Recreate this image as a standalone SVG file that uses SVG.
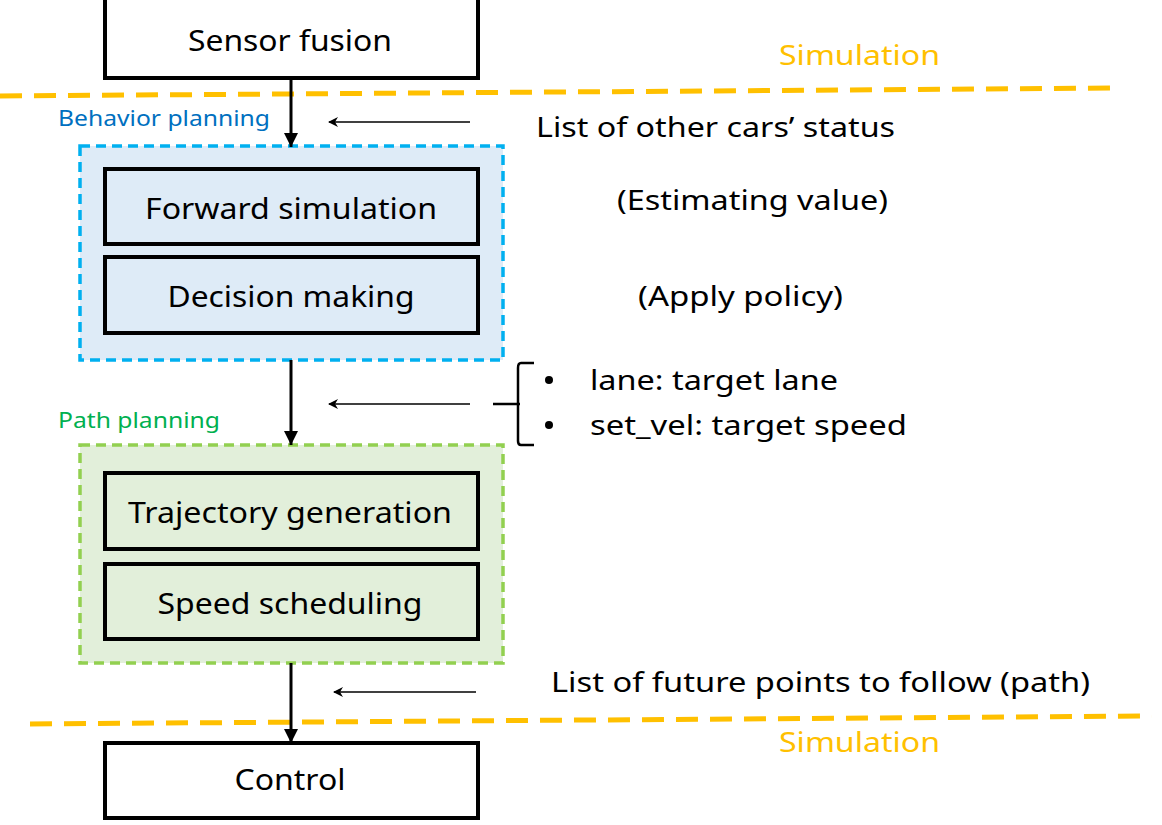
<svg xmlns="http://www.w3.org/2000/svg" width="1162" height="825" viewBox="0 0 1162 825">
<defs>
<marker id="ah" viewBox="0 0 14 14" refX="14" refY="7" markerWidth="14" markerHeight="14" orient="auto" markerUnits="userSpaceOnUse"><path d="M0,0 L14,7 L0,14 z" fill="#000"/></marker>
<marker id="ahs" viewBox="0 0 10 10" refX="9" refY="5" markerWidth="10" markerHeight="10" orient="auto" markerUnits="userSpaceOnUse"><path d="M0,0 L10,5 L0,10 L3,5 z" fill="#000"/></marker>
</defs>
<style>
text{font-family:"Noto Sans","Open Sans","Liberation Sans",sans-serif;}
.box{fill:#fff;stroke:#000;stroke-width:4;}
.inb{fill:#DEEBF7;stroke:#000;stroke-width:4;}
.ing{fill:#E2EFDA;stroke:#000;stroke-width:4;}
.lbl{font-size:29px;fill:#000;text-anchor:middle;}
.note{font-size:28px;fill:#000;}
.sim{font-size:28px;fill:#FFC000;}
.main{stroke:#000;stroke-width:3;fill:none;}
.thin{stroke:#000;stroke-width:1.5;fill:none;}
</style>
<rect width="1162" height="825" fill="#fff"/>
<g id="simlines">
<line x1="0" y1="96" x2="1120" y2="88" stroke="#FFC000" stroke-width="5" stroke-dasharray="22,12"/>
<line x1="30" y1="724" x2="1152" y2="716" stroke="#FFC000" stroke-width="5" stroke-dasharray="22,12"/>
<text class="sim" x="779" y="65" textLength="161" lengthAdjust="spacingAndGlyphs">Simulation</text>
<text class="sim" x="779" y="752" textLength="161" lengthAdjust="spacingAndGlyphs">Simulation</text>
</g>
<g id="behavior">
<rect x="80" y="146" width="423" height="214" fill="#DEEBF7" stroke="#00B0F0" stroke-width="3.5" stroke-dasharray="10,6"/>
<text x="58" y="126" font-size="21" fill="#0070C0" textLength="212" lengthAdjust="spacingAndGlyphs">Behavior planning</text>
</g>
<g id="path">
<rect x="80" y="445" width="423" height="218" fill="#E2EFDA" stroke="#92D050" stroke-width="3.5" stroke-dasharray="10,6"/>
<text x="58" y="428" font-size="21" fill="#00B050" textLength="162" lengthAdjust="spacingAndGlyphs">Path planning</text>
</g>
<g id="sensor"><rect class="box" x="105" y="-2" width="373" height="80"/><text class="lbl" x="290" y="51" textLength="204" lengthAdjust="spacingAndGlyphs">Sensor fusion</text></g>
<g id="forward"><rect class="inb" x="105" y="169" width="373" height="75"/><text class="lbl" x="291" y="219" textLength="292" lengthAdjust="spacingAndGlyphs">Forward simulation</text></g>
<g id="decision"><rect class="inb" x="105" y="257" width="373" height="76"/><text class="lbl" x="291" y="307" textLength="247" lengthAdjust="spacingAndGlyphs">Decision making</text></g>
<g id="trajectory"><rect class="ing" x="105" y="473" width="373" height="76"/><text class="lbl" x="290" y="523" textLength="324" lengthAdjust="spacingAndGlyphs">Trajectory generation</text></g>
<g id="speed"><rect class="ing" x="105" y="564" width="373" height="75"/><text class="lbl" x="290" y="614" textLength="265" lengthAdjust="spacingAndGlyphs">Speed scheduling</text></g>
<g id="control"><rect class="box" x="105" y="743" width="373" height="75"/><text class="lbl" x="290" y="790" textLength="111" lengthAdjust="spacingAndGlyphs">Control</text></g>
<g id="connectors">
<line class="main" x1="291" y1="78" x2="291" y2="147" marker-end="url(#ah)"/>
<line class="main" x1="291" y1="360" x2="291" y2="445" marker-end="url(#ah)"/>
<line class="main" x1="291" y1="663" x2="291" y2="743" marker-end="url(#ah)"/>
<line class="thin" x1="470" y1="122" x2="329" y2="122" marker-end="url(#ahs)"/>
<line class="thin" x1="470" y1="404" x2="329" y2="404" marker-end="url(#ahs)"/>
<line class="thin" x1="476" y1="692" x2="334" y2="692" marker-end="url(#ahs)"/>
<path d="M493,404 H520 M534,363 H521 Q518,363 518,368 V441 Q518,445 521,445 H534" stroke="#000" stroke-width="2.5" fill="none"/>
</g>
<g id="notes">
<text class="note" x="536" y="137" textLength="359" lengthAdjust="spacingAndGlyphs">List of other cars’ status</text>
<text class="note" x="617" y="210" textLength="271" lengthAdjust="spacingAndGlyphs">(Estimating value)</text>
<text class="note" x="638" y="306" textLength="205" lengthAdjust="spacingAndGlyphs">(Apply policy)</text>
<circle cx="549" cy="380" r="4" fill="#000"/>
<text class="note" x="590" y="390" textLength="248" lengthAdjust="spacingAndGlyphs">lane: target lane</text>
<circle cx="549" cy="425" r="4" fill="#000"/>
<text class="note" x="590" y="435" textLength="317" lengthAdjust="spacingAndGlyphs">set_vel: target speed</text>
<text class="note" x="551" y="692" textLength="539" lengthAdjust="spacingAndGlyphs">List of future points to follow (path)</text>
</g>
</svg>
